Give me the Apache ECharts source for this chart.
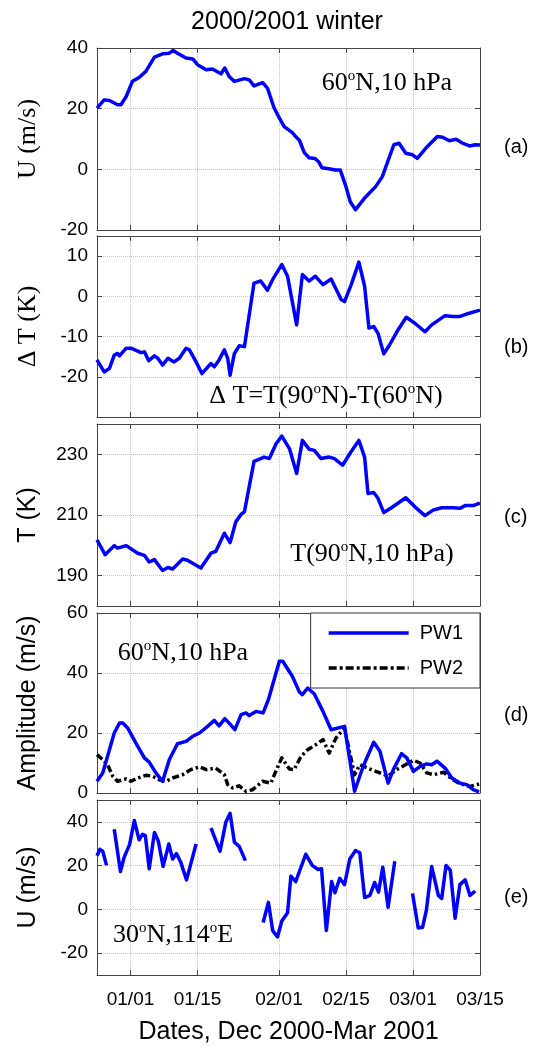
<!DOCTYPE html>
<html>
<head>
<meta charset="utf-8">
<script src="https://cdn.jsdelivr.net/npm/echarts@6/dist/echarts.min.js"></script>
<style>html,body{margin:0;padding:0;background:#fff}#c{width:547px;height:1046px}</style>
</head>
<body>
<div id="c"></div>
<script>
// x values: days relative to 1 Jan 2001 (0 = 01/01)
const xTickDays = [0, 14, 31, 45, 59, 73];
const xTickLabels = ['01/01', '01/15', '02/01', '02/15', '03/01', '03/15'];

// (a) zonal wind U at 60N,10 hPa (m/s)
const uWind60N = [[-7,20.2],[-5.5,22.9],[-4.4,22.7],[-2.7,21.3],[-2,21.3],[-0.9,24],[0.4,29],[1.8,30.3],[3.2,32.3],[5,37],[6.7,38.1],[8.1,38.3],[8.9,39.2],[9.8,38.3],[11.6,36.7],[13,36.4],[14,34.5],[15.8,32.8],[17.1,33.1],[18.9,31.5],[19.7,33.4],[20.6,30.6],[21.7,29],[23.8,29.9],[24.8,29.5],[25.8,27.5],[27.6,28.6],[28.6,26.8],[30,20.2],[31.1,16.9],[32.1,14.1],[33.8,12.1],[34.5,10.8],[35.3,9.5],[36.3,5.5],[37.3,3.8],[38.5,3.6],[39.3,2.5],[40,0.5],[41.4,0.2],[42.8,-0.2],[43.8,-0.2],[44.9,-5.2],[45.9,-10.7],[47,-13.3],[49.1,-9.1],[51.2,-5.7],[52.6,-2.4],[53.6,2],[55,8.1],[56.1,8.6],[57.5,5.3],[58.9,4.8],[59.9,3.6],[61.7,7],[64.1,10.8],[65.2,10.6],[66.6,9.4],[68,9.9],[69.4,8.6],[70.8,7.7],[72,8.1],[73,8]];

// (b) Delta T = T(90N) - T(60N) (K)
const deltaT = [[-7,-15.8],[-5.5,-18.8],[-4.4,-17.9],[-3.4,-14.6],[-2.7,-14.2],[-2.3,-14.8],[-0.9,-12.9],[0.1,-12.9],[2.2,-14],[2.9,-13.8],[3.8,-16],[5,-14.8],[5.7,-15.4],[6.7,-17.1],[7.8,-15.4],[9.1,-16.3],[10.2,-15.4],[11.6,-12.9],[12.3,-13.3],[13.7,-16.3],[14.9,-19.2],[16.8,-16.7],[17.5,-17.5],[18.5,-15.8],[19.6,-13.3],[20.3,-15.4],[20.8,-19.6],[21.7,-14.2],[22.7,-12.3],[23.8,-12.5],[25.8,3.3],[27.2,3.8],[28.6,1.5],[29.7,4.2],[31.6,7.9],[32.8,5],[34.7,-7.1],[35.9,5.4],[37.3,3.8],[38.6,5],[40.2,2.9],[41.9,4.3],[44,-0.8],[44.7,-1.3],[46.1,2.9],[47.7,8.5],[48.9,2.5],[49.8,-7.9],[50.8,-7.5],[51.7,-9.2],[52.9,-14.3],[54.1,-12.1],[55.9,-8.3],[57.6,-5.2],[59.4,-6.7],[61.5,-8.8],[62.9,-7.1],[65.7,-4.8],[67.4,-5],[68.8,-5],[70.2,-4.4],[72.8,-3.5],[73,-3.4]];

// (c) T at 90N,10 hPa (K)
const tPole = [[-7,201.8],[-5.3,196.9],[-3.4,199.9],[-2.7,199.1],[-0.9,199.9],[1.5,197.4],[2.9,196.7],[3.9,194.5],[5,195.3],[6.7,191.7],[7.8,192.7],[8.8,192.2],[10.9,195.5],[11.9,195.1],[14.7,192.5],[16.8,197.4],[17.8,198],[19.6,204],[20.8,200.9],[22,207.8],[23.1,210.2],[23.8,211.1],[25.8,227.7],[27.2,228.6],[27.9,229.1],[29,228.6],[30.4,233.5],[31.6,236],[33.2,231.9],[34.7,223.7],[35.9,234.6],[37.3,231.7],[38.4,231.3],[39.8,228.6],[41.5,229.1],[42.6,228.6],[44.3,226.4],[45.8,230.2],[47.7,234.6],[48.9,229.1],[49.6,217.1],[50.8,217.4],[51.7,215.5],[52.9,210.8],[54.5,212.4],[57.5,215.7],[59.4,212.7],[61.5,209.8],[63.2,211.6],[65,212.4],[67.4,212.4],[68.8,212.2],[69.9,213.1],[71.6,213.1],[72.8,213.8],[73,214]];

// (d) planetary wave amplitudes at 60N,10 hPa (m/s)
const pw1 = [[-7,3.9],[-5.8,6.7],[-4.4,14.4],[-3.4,20],[-2.3,23.3],[-1.6,23.3],[-0.6,21.7],[1.1,16.7],[2.9,11.7],[3.9,10.3],[5.3,6.7],[6.7,3.9],[8.1,11.1],[9.8,16.4],[11.6,17.2],[13,18.9],[14.4,20],[16.1,22.2],[17.5,24.2],[18.5,22.4],[19.7,24.8],[20.6,23.3],[21.8,21.1],[23.1,26.1],[24.1,26.7],[24.8,25.8],[26.2,27.2],[27.7,26.7],[28.8,31.1],[30,37.8],[31.1,43.9],[31.8,43.9],[33.8,38.9],[35.3,33.6],[35.9,32.8],[37,35],[38.4,33],[40.2,27.2],[41.9,21.1],[44.7,22.2],[45.8,11.1],[46.8,0.6],[48.6,8.9],[50.8,16.9],[52.1,13.9],[53.8,3.3],[54.9,7.8],[56.6,13.1],[57.7,11.7],[59.1,7.2],[60.5,8.9],[61.9,9.7],[62.9,9.4],[64,10.6],[65.7,8.3],[67.1,5],[68.8,3.3],[70.2,2.8],[71.6,1.1],[72.8,0.4]];
const pw2 = [[-7,12.8],[-5.8,11.1],[-4.8,9.4],[-3.7,5.6],[-2.7,3.9],[-0.9,4.7],[0.1,3.9],[1.5,5],[3.2,5.9],[4.6,5.6],[6,4.4],[7.4,3.9],[8.8,5],[10.9,6.1],[12.6,7.8],[14.4,8.7],[15.8,7.8],[17.8,8.3],[19.6,6.1],[20.3,2.8],[21.3,1.7],[22.7,2.4],[24.1,0.6],[25.5,1.1],[27.6,3.9],[29.3,3.3],[30.8,8.9],[31.6,11.7],[33.2,8],[34.2,7.8],[35.6,12.2],[37,14.4],[38.7,16.1],[40.2,17.8],[41.5,13.3],[42.9,18.3],[44.7,21.7],[45.8,13.3],[46.8,6.1],[47.9,9.4],[50.3,7.8],[52.1,6.7],[53.8,5.6],[55.6,7.8],[57.4,9.4],[59.1,10.9],[60.5,10],[61.9,6.7],[63.3,6.1],[65.4,6.9],[67.1,4.7],[68.8,3.1],[70.9,2.2],[72.8,3]];

// (e) U at 30N,114E (m/s); null = missing data
const uWind30N = [[-7,24.5],[-6.4,27.4],[-5.8,26.6],[-5,20.1],[-4.2,null],[-3.4,36.6],[-2.1,17.3],[-1.3,24],[-0.2,29.6],[0.8,40.6],[1.8,31.8],[2.5,34.3],[3.1,33.7],[3.9,18.6],[5,35.1],[5.8,31.3],[6.8,19.6],[8,29.9],[8.8,23],[9.6,25.5],[10.5,21.5],[11.7,13.5],[13.7,29.9],[15.2,null],[16.8,37.2],[18.7,26.6],[19.9,39.8],[20.8,43.9],[21.7,30.7],[22.7,28.8],[24,22.3],[26,null],[27.7,-6],[28.8,3.2],[29.7,-9.7],[30.7,-12.6],[31.6,-5.3],[32.8,-1.5],[33.5,15.2],[34.5,12.7],[36.6,25.2],[38,20],[39.2,18.2],[39.9,18.6],[40.9,-9.7],[42,12.7],[42.7,7.6],[43.7,14.2],[44.7,11.3],[45.8,23],[47,26.9],[47.9,25.9],[48.9,5.4],[50,6.4],[51,12.3],[51.8,7.9],[52.7,19.3],[53.8,1],[55.2,22],[57,null],[58.9,7.3],[60.1,-8.5],[61,-8.2],[61.8,-0.4],[62.9,19.6],[64.3,6.4],[65,5],[65.9,20.1],[66.8,17.9],[67.8,-4.1],[68.8,11.3],[69.9,13.5],[70.9,6.4],[72,8.3]];

const yTickValues = [[-20,0,20,40],[-20,-10,0,10],[190,210,230],[0,20,40,60],[-20,0,20,40]];
const yNames = ['U (m/s)', '\u0394 T (K)', 'T (K)', 'Amplitude (m/s)', 'U (m/s)'];
const panelLabels = ['(a)', '(b)', '(c)', '(d)', '(e)'];
const legendNames = ['PW1', 'PW2'];

const sans = "'Liberation Sans', Arial, sans-serif";
const serif = "'Liberation Serif', 'Times New Roman', serif";
const axisColor = '#444444';
const gridColor = '#c4c4c4';
const dashDot = [7, 3, 2.5, 3];

const layout = [
  {top: 48, height: 182, min: -20, max: 40, nameFont: serif},
  {top: 236, height: 181, min: -30, max: 15, nameFont: serif},
  {top: 424, height: 182, min: 180, max: 240, nameFont: sans},
  {top: 613, height: 180, min: 0, max: 60, nameFont: sans},
  {top: 800, height: 183, min: -30, max: 50, nameFont: sans}
];

const grids = [], xAxes = [], yAxes = [];
layout.forEach((p, i) => {
  grids.push({left: 97, right: 67, top: p.top, height: p.height, show: false});
  const tickStyle = {color: axisColor, width: 1};
  xAxes.push({
    gridIndex: i, type: 'value', min: -7, max: 73, position: 'bottom',
    axisLine: {show: true, onZero: false, lineStyle: {color: axisColor, width: 1}},
    axisTick: {show: true, inside: true, length: 5, customValues: xTickDays, lineStyle: tickStyle},
    axisLabel: {show: i === 4, customValues: xTickDays, margin: 15, color: '#000', fontSize: 19, fontFamily: sans,
      formatter: v => { const k = xTickDays.indexOf(Math.round(v)); return k >= 0 ? xTickLabels[k] : ''; }},
    splitLine: {show: true, lineStyle: {type: 'dotted', color: gridColor, width: 1}},
    name: i === 4 ? 'Dates, Dec 2000-Mar 2001' : '',
    nameLocation: 'middle', nameGap: 45,
    nameTextStyle: {fontSize: 25, fontFamily: sans, color: '#000'}
  });
  xAxes.push({
    gridIndex: i, type: 'value', min: -7, max: 73, position: 'top',
    axisLine: {show: true, onZero: false, lineStyle: {color: axisColor, width: 1}},
    axisTick: {show: true, inside: true, length: 5, customValues: xTickDays, lineStyle: tickStyle},
    axisLabel: {show: false}, splitLine: {show: false}
  });
  yAxes.push({
    gridIndex: i, type: 'value', min: p.min, max: p.max, position: 'left',
    axisLine: {show: true, onZero: false, lineStyle: {color: axisColor, width: 1}},
    axisTick: {show: true, inside: true, length: 5, customValues: yTickValues[i], lineStyle: tickStyle},
    axisLabel: {show: true, customValues: yTickValues[i], margin: 9, color: '#000', fontSize: 19, fontFamily: sans},
    splitLine: {show: true, lineStyle: {type: 'dotted', color: gridColor, width: 1}},
    name: yNames[i], nameLocation: 'middle', nameGap: 56, nameRotate: 90,
    nameTextStyle: {fontSize: p.nameFont === serif ? 26 : 25, fontFamily: p.nameFont, color: '#000'}
  });
  yAxes.push({
    gridIndex: i, type: 'value', min: p.min, max: p.max, position: 'right',
    axisLine: {show: true, onZero: false, lineStyle: {color: axisColor, width: 1}},
    axisTick: {show: true, inside: true, length: 5, customValues: yTickValues[i], lineStyle: tickStyle},
    axisLabel: {show: false}, splitLine: {show: false}
  });
});

const blue = '#0000ff';
function lineSeries(name, data, i, color, width, type, z) {
  return {
    name: name, type: 'line', xAxisIndex: 2 * i, yAxisIndex: 2 * i, data: data,
    showSymbol: false, symbol: 'none', connectNulls: false, animation: false, z: z || 2,
    lineStyle: {color: color, width: width, type: type || 'solid', join: 'round'},
    itemStyle: {color: color}
  };
}

const series = [
  lineSeries('U60', uWind60N, 0, blue, 3.5),
  lineSeries('dT', deltaT, 1, blue, 3.5),
  lineSeries('T90', tPole, 2, blue, 3.5),
  lineSeries(legendNames[1], pw2, 3, '#000', 3.5, dashDot, 2),
  lineSeries(legendNames[0], pw1, 3, blue, 3.5, 'solid', 3),
  lineSeries('U30', uWind30N, 4, blue, 3.5)
];

// legend icons: a solid bar and a dash-dot bar (80 x 3.5)
function dashPath(pattern, len, h) {
  let p = '', x = 0, k = 0;
  while (x < len) {
    const seg = pattern[k % pattern.length];
    if (k % 2 === 0) {
      const x2 = Math.min(len, x + seg);
      p += 'M' + x + ',0H' + x2 + 'V' + h + 'H' + x + 'Z';
    }
    x += seg; k++;
  }
  return 'path://' + p;
}
const solidIcon = 'path://M0,0H80V3.5H0Z';
const dashIcon = dashPath([8, 3, 3, 3], 80, 3.5);

const rich = {sup: {fontSize: 15, fontFamily: serif, verticalAlign: 'top', lineHeight: 14, fill: '#000'}};
function annot(x, y, text) {
  return {type: 'text', x: x, y: y, z: 100,
    style: {text: text, fill: '#000', fontSize: 26, fontFamily: serif, lineHeight: 28,
      align: 'center', verticalAlign: 'middle', textAlign: 'center', textVerticalAlign: 'middle', rich: rich}};
}
const graphics = [
  {type: 'text', x: 287, y: 22, style: {text: '2000/2001 winter', fill: '#000', fontSize: 25, fontFamily: sans, textAlign: 'center', textVerticalAlign: 'middle', align: 'center', verticalAlign: 'middle'}},
  annot(387, 83, '60{sup|o}N,10 hPa'),
  annot(326, 396, '\u0394 T=T(90{sup|o}N)-T(60{sup|o}N)'),
  annot(372, 554, 'T(90{sup|o}N,10 hPa)'),
  annot(183, 653, '60{sup|o}N,10 hPa'),
  annot(173, 935, '30{sup|o}N,114{sup|o}E')
];
const labelY = [147, 347, 517, 715, 897];
panelLabels.forEach((t, i) => {
  graphics.push({type: 'text', x: 504, y: labelY[i], style: {text: t, fill: '#000', fontSize: 20, fontFamily: sans, textAlign: 'left', textVerticalAlign: 'middle', align: 'left', verticalAlign: 'middle'}});
});

const chart = echarts.init(document.getElementById('c'), null, {renderer: 'canvas'});
chart.setOption({
  backgroundColor: '#fff',
  animation: false,
  grid: grids, xAxis: xAxes, yAxis: yAxes, series: series,
  legend: {
    data: [{name: legendNames[0], icon: solidIcon}, {name: legendNames[1], icon: dashIcon}],
    orient: 'vertical', right: 67, top: 613,
    itemWidth: 80, itemHeight: 3.5, itemGap: 13, padding: [9, 17, 9, 18],
    borderColor: '#333', borderWidth: 1, backgroundColor: '#fff', selectedMode: false,
    textStyle: {fontSize: 20, fontFamily: sans, color: '#000', padding: [0, 0, 0, 6], lineHeight: 22}
  },
  graphic: graphics
});
</script>
</body>
</html>
